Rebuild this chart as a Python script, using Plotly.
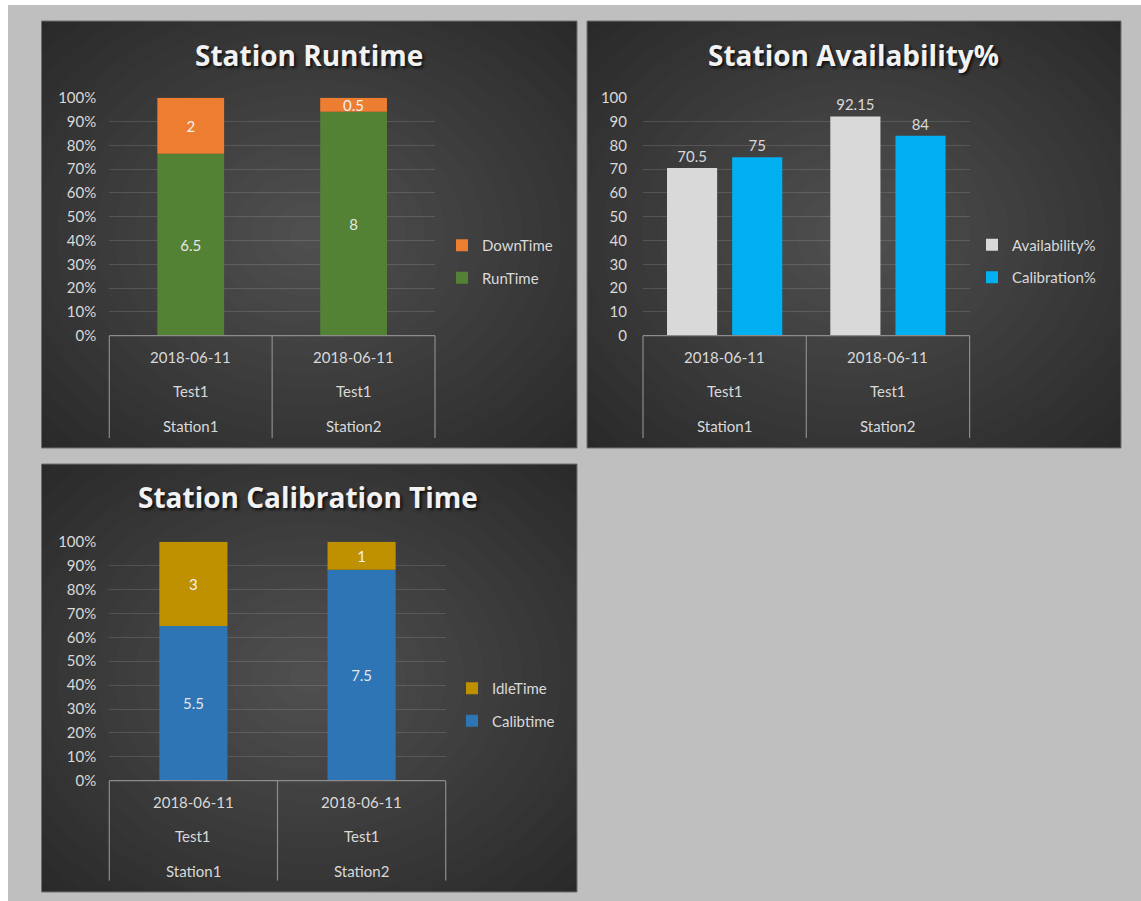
import plotly.graph_objects as go

# ---------------- data ----------------
stations = ["Station1", "Station2"]
dates = ["2018-06-11", "2018-06-11"]
tests = ["Test1", "Test1"]

run_time = [6.5, 8]
down_time = [2, 0.5]

availability = [70.5, 92.15]
calibration = [75, 84]

calib_time = [5.5, 7.5]
idle_time = [3, 1]

titles = ["Station Runtime", "Station Availability%", "Station Calibration Time"]

# ---------------- layout geometry (pixels) ----------------
W, H = 1141, 901
panels = [(41.5, 21, 577, 448), (587, 21, 1121, 448), (41.5, 464, 577, 892)]
plots = [(109.3, 97.7, 435, 335.7), (643, 97.7, 969.6, 335.7), (109.3, 541.7, 445.7, 780.7)]
title_pos = [(309, 55), (853, 55), (308, 497)]
legend_pos = [(442, 261.5), (972, 261), (452, 704.5)]
table_depth = [-0.43, -0.43, -0.418]
row_y = [-0.09, -0.232, -0.378]

FONT = "Lato, Calibri, sans-serif"
TXT = "#d9d9d9"


def px(p):
    return p / W


def py(p):
    return 1 - p / H


def fmt(v):
    return f"{v:g}"


fig = go.Figure()

# background subplots (for clipped radial gradient)
for i in range(3):
    s = "" if i == 0 else str(i + 1)
    fig.add_trace(go.Scatter(x=[None], y=[None], xaxis="x" + s, yaxis="y" + s,
                             showlegend=False, hoverinfo="skip", mode="markers"))

# ---------- chart 1: runtime (stacked 100%) ----------
tot1 = [a + b for a, b in zip(run_time, down_time)]
run_pct = [100 * a / t for a, t in zip(run_time, tot1)]
down_pct = [100 * b / t for b, t in zip(down_time, tot1)]

w1 = 0.41
fig.add_trace(go.Bar(x=stations, y=run_pct, base=[0, 0], text=[fmt(v) for v in run_time],
                     name="RunTime", marker=dict(color="#548235", line_width=0),
                     width=w1, offset=-w1 / 2, xaxis="x4", yaxis="y4", legend="legend",
                     legendgroup="rt", legendrank=2, textposition="inside",
                     insidetextanchor="middle",
                     textangle=0, textfont=dict(family=FONT, size=15, color="#e6e6e6"),
                     hoverinfo="skip"))
fig.add_trace(go.Bar(x=stations, y=down_pct, base=run_pct, text=[fmt(v) for v in down_time],
                     name="DownTime", marker=dict(color="#ED7D31", line_width=0),
                     width=w1, offset=-w1 / 2, xaxis="x4", yaxis="y4", legend="legend",
                     legendgroup="dt", legendrank=1, textposition="inside",
                     insidetextanchor="middle",
                     textangle=0, textfont=dict(family=FONT, size=15, color="#f2f2f2"),
                     hoverinfo="skip"))

# ---------- chart 2: availability (clustered) ----------
w2 = 0.307
fig.add_trace(go.Bar(x=stations, y=availability, text=[fmt(v) for v in availability],
                     name="Availability%", marker=dict(color="#D9D9D9", line_width=0),
                     width=w2, offset=-0.353, xaxis="x5", yaxis="y5", legend="legend2",
                     legendgroup="av", legendrank=1, textposition="outside", cliponaxis=False,
                     textangle=0, textfont=dict(family=FONT, size=15, color=TXT),
                     hoverinfo="skip"))
fig.add_trace(go.Bar(x=stations, y=calibration, text=[fmt(v) for v in calibration],
                     name="Calibration%", marker=dict(color="#00B0F0", line_width=0),
                     width=w2, offset=0.046, xaxis="x5", yaxis="y5", legend="legend2",
                     legendgroup="cb", legendrank=2, textposition="outside", cliponaxis=False,
                     textangle=0, textfont=dict(family=FONT, size=15, color=TXT),
                     hoverinfo="skip"))

# ---------- chart 3: calibration time (stacked 100%) ----------
tot3 = [a + b for a, b in zip(calib_time, idle_time)]
calib_pct = [100 * a / t for a, t in zip(calib_time, tot3)]
idle_pct = [100 * b / t for b, t in zip(idle_time, tot3)]

w3 = 0.405
fig.add_trace(go.Bar(x=stations, y=calib_pct, base=[0, 0], text=[fmt(v) for v in calib_time],
                     name="Calibtime", marker=dict(color="#2E75B6", line_width=0),
                     width=w3, offset=-w3 / 2, xaxis="x6", yaxis="y6", legend="legend3",
                     legendgroup="ct", legendrank=2, textposition="inside",
                     insidetextanchor="middle",
                     textangle=0, textfont=dict(family=FONT, size=15, color="#e6e6e6"),
                     hoverinfo="skip"))
fig.add_trace(go.Bar(x=stations, y=idle_pct, base=calib_pct, text=[fmt(v) for v in idle_time],
                     name="IdleTime", marker=dict(color="#BF9000", line_width=0),
                     width=w3, offset=-w3 / 2, xaxis="x6", yaxis="y6", legend="legend3",
                     legendgroup="it", legendrank=1, textposition="inside",
                     insidetextanchor="middle",
                     textangle=0, textfont=dict(family=FONT, size=15, color="#f2f2f2"),
                     hoverinfo="skip"))

# ---------------- axes ----------------
layout_axes = {}
for i, (l, t, r, b) in enumerate(panels):
    s = "" if i == 0 else str(i + 1)
    layout_axes["xaxis" + s] = dict(domain=[px(l), px(r)], range=[-1, 1], visible=False,
                                    fixedrange=True, anchor="y" + s)
    layout_axes["yaxis" + s] = dict(domain=[py(b), py(t)], range=[-1, 1], visible=False,
                                    fixedrange=True, anchor="x" + s)

for i, (l, t, r, b) in enumerate(plots):
    n = str(i + 4)
    layout_axes["xaxis" + n] = dict(domain=[px(l), px(r)], anchor="y" + n, type="category",
                                    categoryarray=stations, range=[-0.5, 1.5],
                                    showticklabels=False, showgrid=False, zeroline=False,
                                    showline=False, ticks="", fixedrange=True)
    layout_axes["yaxis" + n] = dict(domain=[py(b), py(t)], anchor="x" + n, range=[0, 100],
                                    dtick=10, tick0=0, ticksuffix="%" if i != 1 else "",
                                    showgrid=True, gridcolor="rgba(255,255,255,0.13)",
                                    gridwidth=1, zeroline=False, showline=False, ticks="",
                                    ticklabelstandoff=12 if i != 1 else 15,
                                    tickfont=dict(family=FONT, size=15, color=TXT),
                                    fixedrange=True)

# ---------------- shapes ----------------
shapes = []
# page white margins
shapes.append(dict(type="rect", xref="paper", yref="paper", x0=0, x1=px(8), y0=0, y1=1,
                   fillcolor="white", line_width=0, layer="below"))
shapes.append(dict(type="rect", xref="paper", yref="paper", x0=0, x1=1, y0=py(5), y1=1,
                   fillcolor="white", line_width=0, layer="below"))
# panel bases
for (l, t, r, b) in panels:
    shapes.append(dict(type="rect", xref="paper", yref="paper", x0=px(l), x1=px(r),
                       y0=py(b), y1=py(t), fillcolor="#272727",
                       line=dict(color="#6e6e6e", width=1), layer="below"))
# radial gradient via stacked translucent ellipses (clipped to panel subplot)
NLAYER = 20
for i in range(3):
    s = "" if i == 0 else str(i + 1)
    for k in range(NLAYER):
        rr = 1.45 * (1 - k / NLAYER)
        shapes.append(dict(type="circle", xref="x" + s, yref="y" + s,
                           x0=-rr, x1=rr, y0=-rr, y1=rr,
                           fillcolor="rgba(255,255,255,0.0125)", line_width=0, layer="below"))
# category tables
for i in range(3):
    n = str(i + 4)
    d = table_depth[i]
    shapes.append(dict(type="line", xref="x" + n + " domain", yref="y" + n + " domain",
                       x0=0, x1=1, y0=0, y1=0, line=dict(color="#8c8c8c", width=1.2),
                       layer="above"))
    for xv in (0, 0.5, 1):
        shapes.append(dict(type="line", xref="x" + n + " domain", yref="y" + n + " domain",
                           x0=xv, x1=xv, y0=0, y1=d, line=dict(color="#8c8c8c", width=1.2),
                           layer="above"))

# ---------------- annotations ----------------
ann = []
for i, ttl in enumerate(titles):
    cx, cy = title_pos[i]
    ann.append(dict(text=ttl, xref="paper", yref="paper", x=px(cx), y=py(cy),
                    xanchor="center", yanchor="middle", showarrow=False,
                    font=dict(family="Open Sans", size=28, weight="bold", color="#f2f2f2",
                              shadow="2px 2px 3px rgba(0,0,0,0.75)")))
for i in range(3):
    n = str(i + 4)
    for rows, yy in zip((dates, tests, stations), row_y):
        for st, lab in zip(stations, rows):
            ann.append(dict(text=lab, xref="x" + n, yref="y" + n + " domain", x=st, y=yy,
                            xanchor="center", yanchor="middle", showarrow=False,
                            font=dict(family=FONT, size=15, color=TXT)))

# ---------------- legends ----------------
legends = {}
for i, key in enumerate(["legend", "legend2", "legend3"]):
    lx, ly = legend_pos[i]
    legends[key] = dict(x=px(lx), y=py(ly), xanchor="left", yanchor="middle",
                        xref="paper", yref="paper", bgcolor="rgba(0,0,0,0)",
                        borderwidth=0, traceorder="grouped", tracegroupgap=10,
                        font=dict(family=FONT, size=15, color=TXT), itemclick=False,
                        itemdoubleclick=False)

fig.update_layout(
    width=W, height=H, autosize=False,
    margin=dict(l=0, r=0, t=0, b=0, pad=0, autoexpand=False),
    paper_bgcolor="#bfbfbf", plot_bgcolor="rgba(0,0,0,0)",
    barmode="group", showlegend=True, hovermode=False,
    uniformtext=dict(mode="show", minsize=15),
    shapes=shapes, annotations=ann,
    **layout_axes, **legends,
)

fig.write_html("out.html", config={"displayModeBar": False})
